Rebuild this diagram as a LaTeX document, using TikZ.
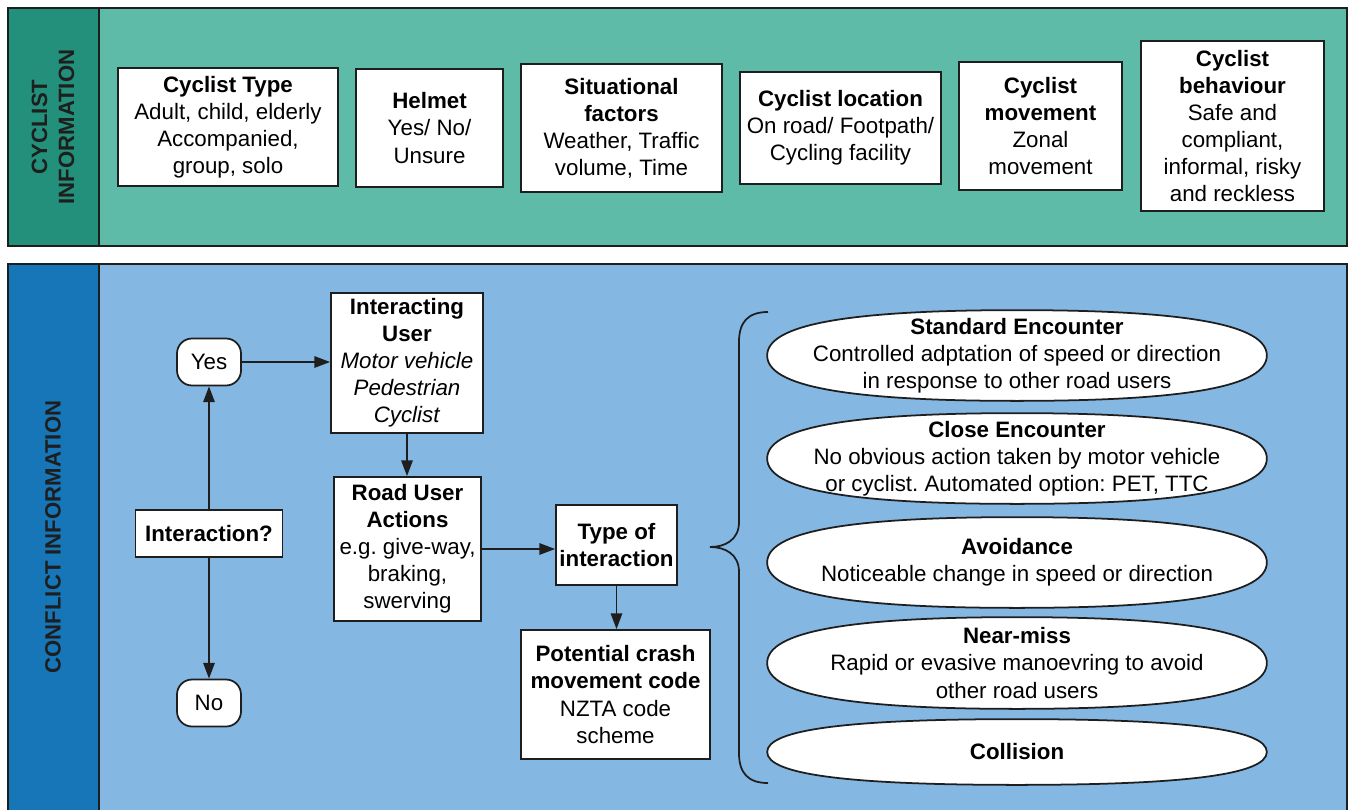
\documentclass[tikz,border=0pt]{standalone}
\usepackage{fontspec}
\setmainfont{Liberation Sans}
\usepackage{xcolor}
\usetikzlibrary{positioning,arrows.meta,calc,backgrounds}
\definecolor{figTeal}{HTML}{5DBBA7}
\definecolor{figTealDark}{HTML}{22907A}
\definecolor{figBlue}{HTML}{84B8E3}
\definecolor{figBlueDark}{HTML}{1676B8}
\definecolor{figInk}{HTML}{1E1E1E}
\frenchspacing

\begin{document}
\begin{tikzpicture}[x=0.02cm, y=-0.02cm,
  infobox/.style={draw=figInk, fill=white, line width=1pt, align=center,
    inner sep=2pt, font=\fontsize{12.7}{15.4}\selectfont},
  terminal/.style={infobox, rounded corners=0.3cm, minimum width=1.28cm,
    minimum height=0.94cm},
  encounter/.style={infobox, draw=none, fill=none, minimum width=9.96cm},
  encshape/.style={draw=figInk, fill=white, line width=1pt},
  sidelabel/.style={rotate=90, align=center, text=figInk,
    font=\fontsize{12.6}{15.4}\selectfont\bfseries},
  panel/.style={draw=figInk, line width=1pt},
  flow/.style={-{Triangle[length=9pt,width=6.5pt]}, line width=1pt, figInk},
  bracket/.style={line width=1pt, figInk},
]

\useasboundingbox (0,0) rectangle (1349,809);

% === Panels ===
\begin{scope}[on background layer]
  \draw[panel, fill=figTeal] (8,8) rectangle (1347,246);
  \draw[panel, fill=figTealDark] (8,8) rectangle (99,246);
  \draw[panel, fill=figBlue] (8,264) rectangle (1347,830);
  \draw[panel, fill=figBlueDark] (8,264) rectangle (99,830);
\end{scope}

% === Cyclist information ===
\node[sidelabel] (cyclab) at (53,127) {CYCLIST\\INFORMATION};

\node[infobox, minimum width=4.4cm, minimum height=2.36cm] (cyctype) at (228,127)
  {\textbf{Cyclist Type}\\Adult, child, elderly\\Accompanied,\\group, solo};
\node[infobox, minimum width=2.94cm, minimum height=2.36cm] (helmet) at (429.5,128)
  {\textbf{Helmet}\\Yes/ No/\\Unsure};
\node[infobox, minimum width=4.02cm, minimum height=2.56cm] (situation) at (621.5,128)
  {\textbf{Situational}\\\textbf{factors}\\Weather, Traffic\\volume, Time};
\node[infobox, minimum width=4.02cm, minimum height=2.24cm] (location) at (840.5,128)
  {\textbf{Cyclist location}\\On road/ Footpath/\\Cycling facility};
\node[infobox, minimum width=3.26cm, minimum height=2.56cm] (movement) at (1040.5,126)
  {\textbf{Cyclist}\\\textbf{movement}\\Zonal\\movement};
\node[infobox, minimum width=3.66cm, minimum height=3.4cm] (behaviour) at (1232.5,126)
  {\textbf{Cyclist}\\\textbf{behaviour}\\Safe and\\compliant,\\informal, risky\\and reckless};

% === Conflict information ===
\node[sidelabel] (conflab) at (53,537) {CONFLICT INFORMATION};

\node[terminal] (yes) at (209,362) {Yes};
\node[terminal] (no) at (209,703) {No};
\node[infobox, minimum width=2.94cm, minimum height=0.94cm] (interq) at (209,533.5)
  {\textbf{Interaction?}};
\node[infobox, minimum width=3.04cm, minimum height=2.8cm] (interuser) at (407,363)
  {\textbf{Interacting}\\\textbf{User}\\\textit{Motor vehicle}\\\textit{Pedestrian}\\\textit{Cyclist}};
\node[infobox, minimum width=2.94cm, minimum height=2.88cm] (actions) at (407.5,549)
  {\textbf{Road User}\\\textbf{Actions}\\e.g. give-way,\\braking,\\swerving};
\node[infobox, minimum width=2.42cm, minimum height=1.6cm, inner xsep=1pt] (typeint) at (616.5,545)
  {\textbf{Type of}\\\textbf{interaction}};
\node[infobox, minimum width=3.78cm, minimum height=2.58cm] (crash) at (615.5,694.5)
  {\textbf{Potential crash}\\\textbf{movement code}\\NZTA code\\scheme};

\draw[flow] (interq) -- (yes);
\draw[flow] (interq) -- (no);
\draw[flow] (yes.east) -- (yes.east -| interuser.west);
\draw[flow] (interuser.south) -- (interuser.south |- actions.north);
\draw[flow] (actions.east) -- (actions.east -| typeint.west);
\draw[flow] (typeint.south) -- (typeint.south |- crash.north);

% === Interaction types ===
\node[encounter, minimum height=1.78cm] (standard) at (1017,355.5)
  {\textbf{Standard Encounter}\\Controlled adptation of speed or direction\\in response to other road users};
\node[encounter, minimum height=1.78cm] (close) at (1017,458.5)
  {\textbf{Close Encounter}\\No obvious action taken by motor vehicle\\or cyclist. Automated option: PET, TTC};
\node[encounter, minimum height=1.78cm] (avoid) at (1017,562.5)
  {\textbf{Avoidance}\\Noticeable change in speed or direction};
\node[encounter, minimum height=1.8cm] (nearmiss) at (1017,663)
  {\textbf{Near-miss}\\Rapid or evasive manoevring to avoid\\other road users};
\node[encounter, minimum height=1.28cm] (collision) at (1017,752)
  {\textbf{Collision}};

% fuller ovals behind the texts
\def\k{0.68}
\begin{scope}[on background layer]
  \foreach \n in {standard,close,avoid,nearmiss,collision} {
    \draw[encshape] (\n.east)
      .. controls ($(\n.east)!\k!(\n.north east)$) and ($(\n.north)!\k!(\n.north east)$) .. (\n.north)
      .. controls ($(\n.north)!\k!(\n.north west)$) and ($(\n.west)!\k!(\n.north west)$) .. (\n.west)
      .. controls ($(\n.west)!\k!(\n.south west)$) and ($(\n.south)!\k!(\n.south west)$) .. (\n.south)
      .. controls ($(\n.south)!\k!(\n.south east)$) and ($(\n.east)!\k!(\n.south east)$) .. (\n.east)
      -- cycle;
  }
\end{scope}

\coordinate (brtop) at (768,312);
\coordinate (brtip) at (710,547);
\coordinate (brbot) at (768,783);
\draw[bracket] (brtop) .. controls (748,312) and (739,322) .. (739,342)
  -- (739,522) .. controls (739,540) and (725,547) .. (brtip)
  .. controls (725,547) and (739,554) .. (739,572)
  -- (739,753) .. controls (739,773) and (748,783) .. (brbot);

\end{tikzpicture}
\end{document}
